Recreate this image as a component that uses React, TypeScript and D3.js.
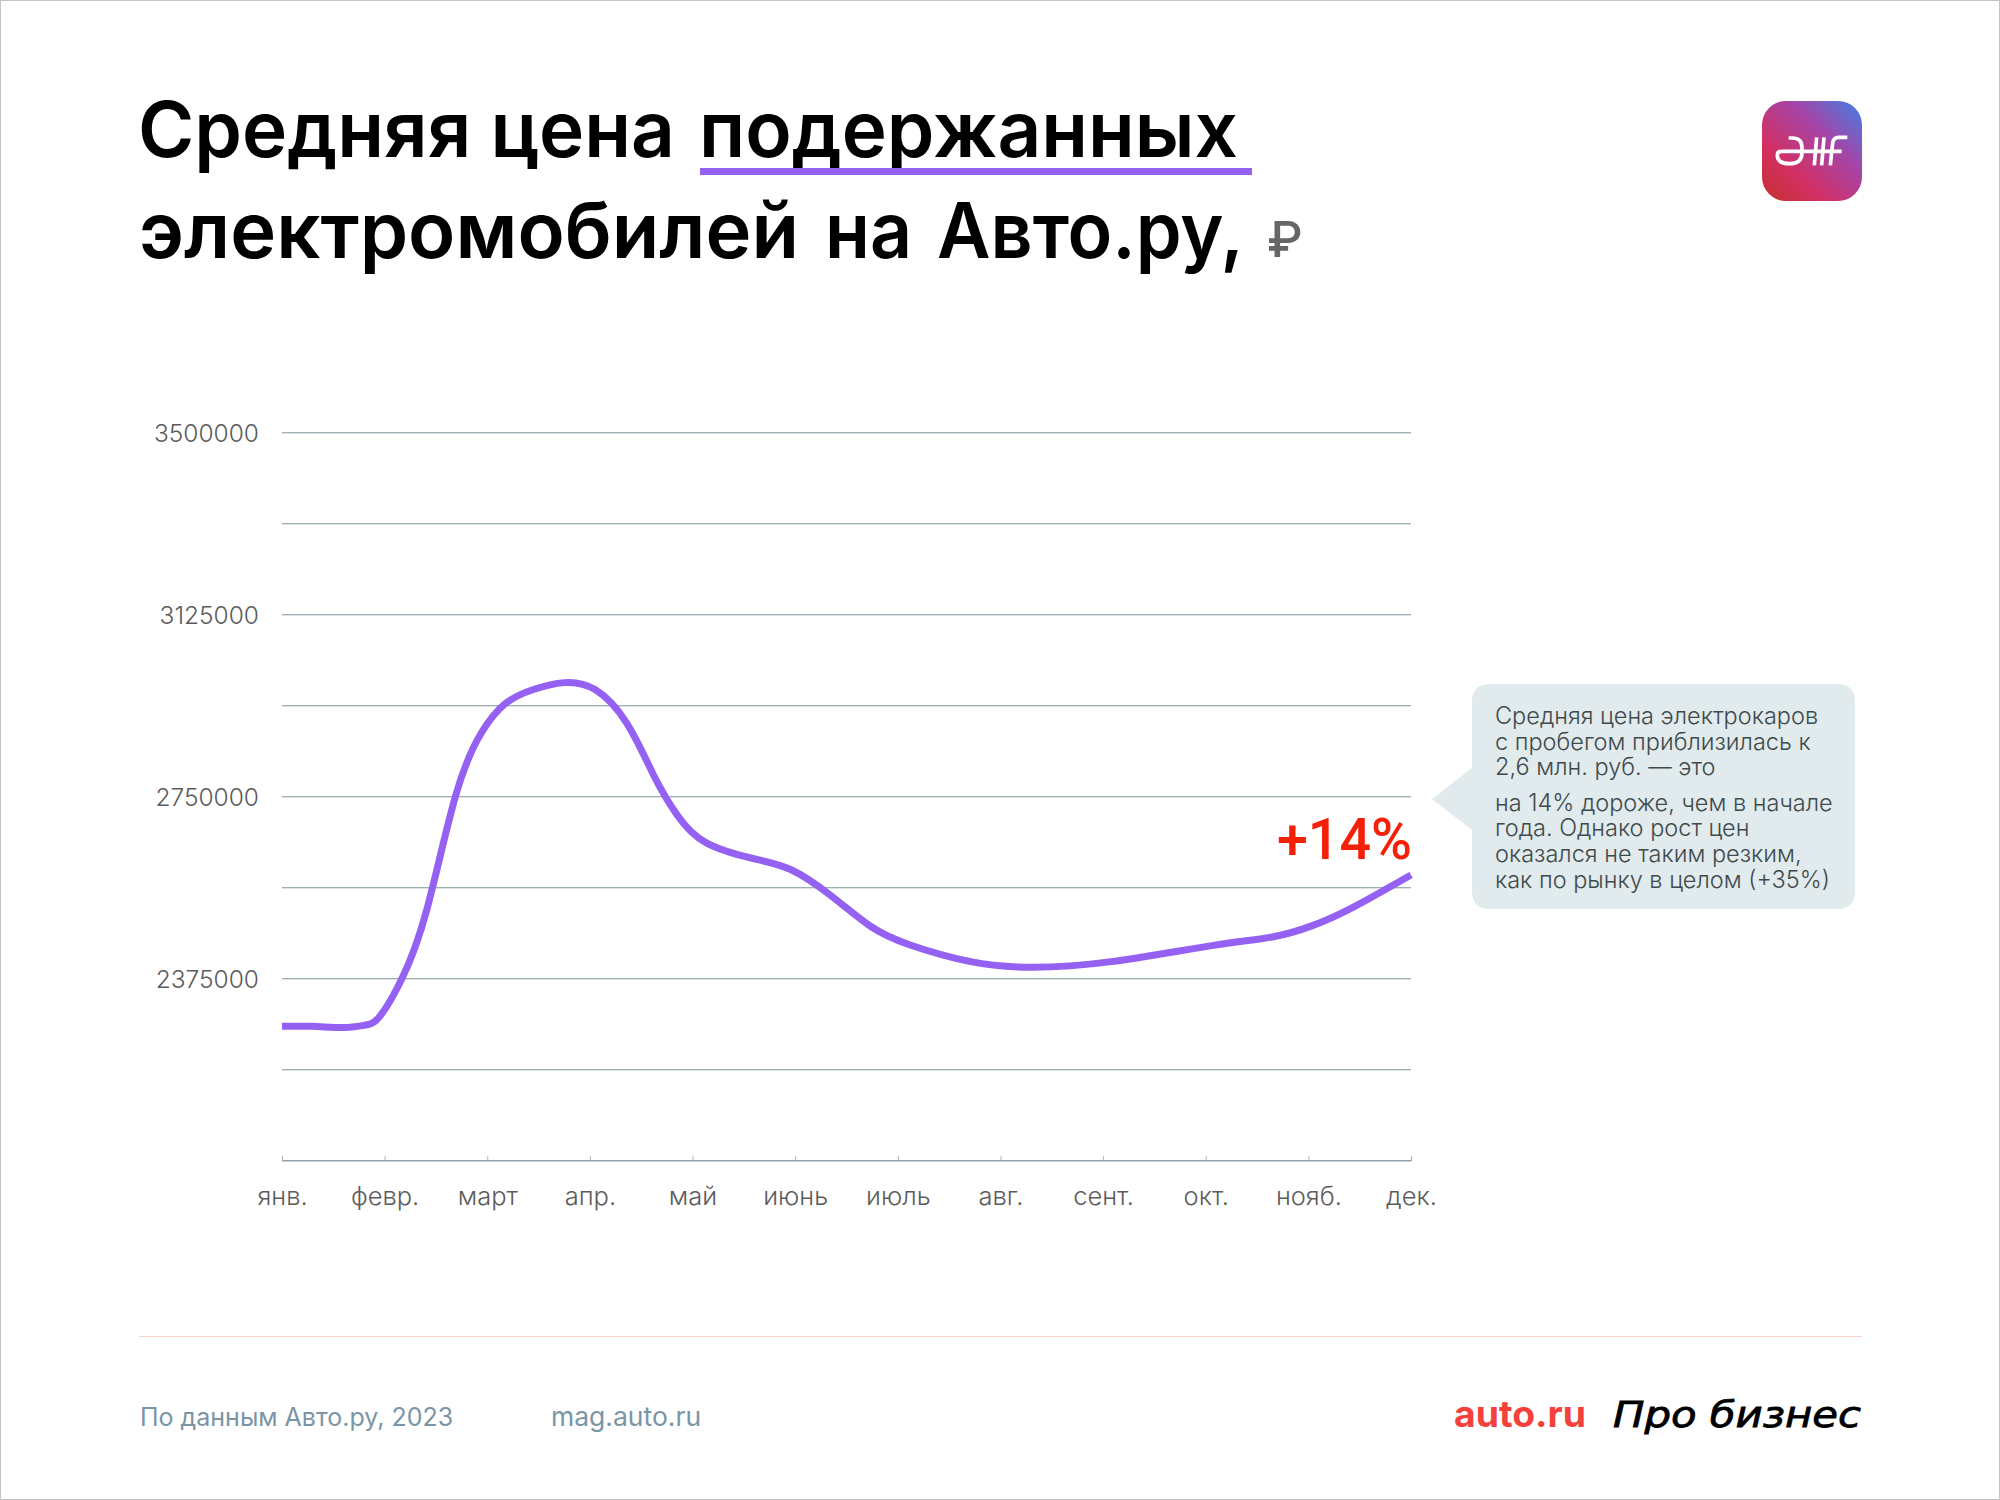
import { useEffect, useRef } from "react"
import * as d3 from "d3"

const months = ["янв.", "февр.", "март", "апр.", "май", "июнь", "июль", "авг.", "сент.", "окт.", "нояб.", "дек."]
const gridValues = [2000000, 2187500, 2375000, 2562500, 2750000, 2937500, 3125000, 3312500, 3500000]
const labelledValues = [2375000, 2750000, 3125000, 3500000]

// position along the year (0 = янв., 11 = дек.)
const pricePositions = [
  0, 0.3, 0.6, 0.8, 0.95, 1.17, 1.41, 1.69, 1.94, 2.18, 2.45, 2.75, 3.05, 3.36, 3.62, 3.85, 4.13, 4.58, 4.95, 5.34,
  5.73, 6.12, 6.71, 7.3, 8.08, 9.06, 9.65, 10.04, 10.43, 11,
]
const priceValues = [
  2276100, 2276000, 2273500, 2278000, 2296000, 2375000, 2515800, 2750000, 2879800, 2941600, 2970000, 2984200, 2970000,
  2900400, 2794000, 2711500, 2654500, 2622300, 2599600, 2546700, 2482800, 2443700, 2409300, 2397700, 2409300, 2442300,
  2460200, 2483500, 2520600, 2587900,
]

const noteLines = [
  { text: "Средняя цена электрокаров", y: 724 },
  { text: "с пробегом приблизилась к", y: 750 },
  { text: "2,6 млн. руб. — это", y: 775 },
  { text: "на 14% дороже, чем в начале", y: 811 },
  { text: "года. Однако рост цен", y: 836 },
  { text: "оказался не таким резким,", y: 862 },
  { text: "как по рынку в целом (+35%)", y: 888 },
]

const FONT = "Inter, 'Noto Sans', sans-serif"

export default function App() {
  const ref = useRef<SVGSVGElement>(null)

  useEffect(() => {
    const svg = d3.select(ref.current)
    svg.selectAll("*").remove()

    svg.append("rect").attr("x", 0.5).attr("y", 0.5).attr("width", 1999).attr("height", 1499)
      .attr("fill", "#fff").attr("stroke", "#c4c4c4")

    // Title
    const titleText = (t: string, x: number, y: number, len: number) =>
      svg.append("text").attr("x", x).attr("y", y).attr("font-family", FONT).attr("font-size", 77)
        .attr("font-weight", 600).attr("fill", "#000").attr("textLength", len).attr("lengthAdjust", "spacingAndGlyphs").text(t)
    titleText("Средняя цена", 138, 157, 537)
    titleText("подержанных", 699, 157, 539)
    titleText("электромобилей", 139, 258, 660)
    titleText("на", 825, 258, 87)
    titleText("Авто.ру,", 937, 258, 307)
    svg.append("rect").attr("x", 700).attr("y", 168).attr("width", 552).attr("height", 7).attr("fill", "#9461f2")
    svg.append("text").attr("x", 1267).attr("y", 257).attr("font-family", FONT).attr("font-size", 50)
      .attr("font-weight", 500).attr("fill", "#666").text("₽")

    // Logo
    const grad = svg.append("defs").append("linearGradient").attr("id", "logo-grad")
      .attr("x1", "0%").attr("y1", "100%").attr("x2", "100%").attr("y2", "0%")
    grad.append("stop").attr("offset", "0%").attr("stop-color", "#c5302c")
    grad.append("stop").attr("offset", "30%").attr("stop-color", "#d32f63")
    grad.append("stop").attr("offset", "65%").attr("stop-color", "#a445a8")
    grad.append("stop").attr("offset", "100%").attr("stop-color", "#3f80e4")
    svg.append("rect").attr("x", 1762).attr("y", 101).attr("width", 100).attr("height", 100).attr("rx", 24)
      .attr("fill", "url(#logo-grad)")
    const mark = svg.append("g").attr("transform", "translate(1700,80) scale(0.3333)")
      .attr("fill", "none").attr("stroke", "#fff").attr("stroke-width", 11)
    mark.append("path").attr("d", "M266 174 H278 Q306 174 306 204 V218 Q306 251 268 251 Q232 251 232 226 Q232 214 244 214 H425")
    mark.append("path").attr("d", "M350 172 L343 256 M372 172 L365 256 M442 172 H416 Q400 172 398 190 L391 256")

    // Scales
    const y = d3.scaleLinear().domain([2000000, 3500000]).range([1160.3, 432.3])
    const x = d3.scaleLinear().domain([0, months.length - 1]).range([282, 1411])
    const xBand = d3.scalePoint<string>().domain(months).range([282, 1411])

    // Y grid and labels
    const yAxis = svg.append("g").attr("transform", "translate(282,0)").call(
      d3.axisLeft(y).tickValues(gridValues).tickSize(-1129).tickPadding(23)
        .tickFormat((d) => (labelledValues.includes(+d) ? String(d) : "")),
    )
    yAxis.select(".domain").remove()
    yAxis.selectAll("line").attr("stroke", "#7b9598").attr("stroke-width", 1.1)
    yAxis.selectAll("text").attr("font-family", FONT).attr("font-size", 24.5).attr("font-weight", 300)
      .attr("fill", "#5c5c5c").attr("dy", "0.37em")

    // X axis
    const xAxis = svg.append("g").attr("transform", "translate(0,1160.3)").call(
      d3.axisBottom(xBand).tickSize(-4).tickPadding(30),
    )
    xAxis.select(".domain").attr("stroke", "#8aa0ab").attr("stroke-width", 1)
    xAxis.selectAll("line").attr("stroke", "#a5b5bd")
    xAxis.selectAll("text").attr("font-family", FONT).attr("font-size", 25.5).attr("font-weight", 300)
      .attr("fill", "#5c5c5c").attr("y", 27).attr("dy", "0.71em")

    // Price curve
    const line = d3.line<number>()
      .x((d) => x(d))
      .y((_, i) => y(priceValues[i]))
      .curve(d3.curveNatural)
    svg.append("path").attr("d", line(pricePositions)).attr("fill", "none")
      .attr("stroke", "#9461f2").attr("stroke-width", 7)

    svg.append("text").attr("x", 1412).attr("y", 859).attr("text-anchor", "end").attr("font-family", "Roboto, sans-serif")
      .attr("font-size", 58).attr("font-weight", 500).attr("fill", "#f52007")
      .attr("textLength", 135).attr("lengthAdjust", "spacingAndGlyphs").text("+14%")

    // Note bubble
    svg.append("path")
      .attr("d", "M1490 684 H1837 Q1855 684 1855 702 V891 Q1855 909 1837 909 H1490 Q1472 909 1472 891 V830 L1432 799 L1472 768 V702 Q1472 684 1490 684 Z")
      .attr("fill", "#e1eaec")
    svg.append("g").selectAll("text").data(noteLines).join("text")
      .attr("x", 1495).attr("y", (d) => d.y).attr("font-family", FONT).attr("font-size", 23.5)
      .attr("font-weight", 300).attr("fill", "#3f4a4d").text((d) => d.text)

    // Footer
    svg.append("line").attr("x1", 139).attr("x2", 1862).attr("y1", 1336.5).attr("y2", 1336.5)
      .attr("stroke", "#fbd2cb").attr("stroke-width", 1.2)
    svg.append("text").attr("x", 140).attr("y", 1426).attr("font-family", FONT).attr("font-size", 25)
      .attr("fill", "#7a95a5").text("По данным Авто.ру, 2023")
    svg.append("text").attr("x", 551).attr("y", 1426).attr("font-family", FONT).attr("font-size", 26.5)
      .attr("fill", "#7a95a5").text("mag.auto.ru")
    svg.append("text").attr("x", 1454).attr("y", 1427).attr("font-family", FONT).attr("font-size", 36)
      .attr("font-weight", 700).attr("fill", "#f5403c").attr("textLength", 132).attr("lengthAdjust", "spacingAndGlyphs").text("auto.ru")
    svg.append("text").attr("x", 1613).attr("y", 1427).attr("font-family", "'DejaVu Sans', sans-serif").attr("font-size", 36)
      .attr("font-style", "italic").attr("fill", "#000").attr("stroke", "#000").attr("stroke-width", 0.8)
      .attr("textLength", 248).attr("lengthAdjust", "spacingAndGlyphs").text("Про бизнес")
  }, [])

  return <svg ref={ref} width={2000} height={1500} style={{ position: "absolute", left: 0, top: 0 }} />
}
